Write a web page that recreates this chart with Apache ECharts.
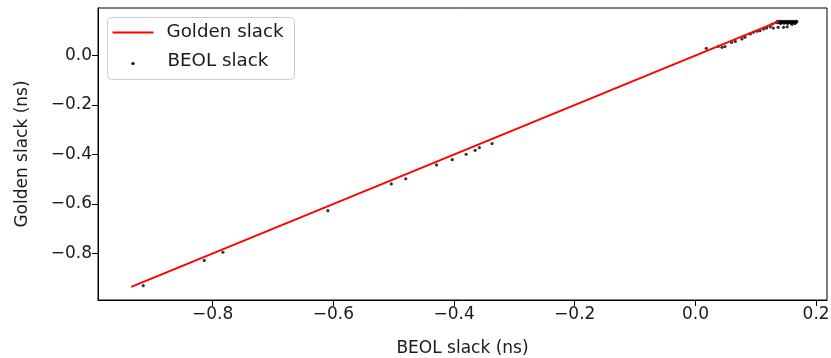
<!DOCTYPE html>
<html>
<head>
<meta charset="utf-8">
<script src="https://cdn.jsdelivr.net/npm/echarts@6/dist/echarts.min.js"></script>
<style>
html,body{margin:0;padding:0;background:#fff;}
#chart{width:831px;height:358px;}
</style>
</head>
<body>
<div id="chart"></div>
<script>
// Golden reference line (golden slack vs itself)
const goldenLine = [-0.935, 0.138];

// BEOL slack (x) vs Golden slack (y)
const beolSlack = [
  -0.915, -0.814, -0.783, -0.609, -0.504, -0.480, -0.429, -0.403, -0.380, -0.365, -0.358, -0.337,
  0.018, 0.038, 0.044, 0.049, 0.060, 0.066, 0.077, 0.082, 0.091, 0.096, 0.102, 0.107, 0.113, 0.118, 0.124,
  0.127, 0.134, 0.129, 0.137, 0.146, 0.152, 0.160,
  0.136, 0.139, 0.142, 0.145, 0.148, 0.151, 0.154, 0.157, 0.160, 0.163, 0.166, 0.168,
  0.137, 0.140, 0.143, 0.146, 0.149, 0.152, 0.155, 0.158, 0.161, 0.164, 0.167,
  0.141, 0.147, 0.153, 0.159, 0.165
];
const goldenSlack = [
  -0.930, -0.828, -0.795, -0.627, -0.519, -0.498, -0.442, -0.421, -0.399, -0.383, -0.372, -0.356,
  0.029, 0.037, 0.033, 0.036, 0.053, 0.057, 0.067, 0.074, 0.087, 0.094, 0.098, 0.100, 0.107, 0.111, 0.116,
  0.127, 0.134, 0.111, 0.114, 0.114, 0.116, 0.126,
  0.138, 0.138, 0.138, 0.138, 0.138, 0.138, 0.138, 0.138, 0.138, 0.138, 0.138, 0.138,
  0.133, 0.133, 0.134, 0.133, 0.134, 0.133, 0.134, 0.133, 0.134, 0.133, 0.134,
  0.129, 0.130, 0.129, 0.130, 0.129
];

const xTicks = [-0.8, -0.6, -0.4, -0.2, 0.0, 0.2];
const yTicks = [-0.8, -0.6, -0.4, -0.2, 0.0];

const FONT = 'DejaVu Sans';
const FS = 17;
const LFS = 18.3;
const TXT = '#1a1a1a';

function fmt(v) {
  const r = Math.round(v * 10) / 10;
  return (r < 0 ? '\u2212' : '') + Math.abs(r).toFixed(1);
}

const scatterData = beolSlack.map((x, i) => [x, goldenSlack[i]]);
const lineData = goldenLine.map(v => [v, v]);

const chart = echarts.init(document.getElementById('chart'), null, {renderer: 'canvas'});
chart.setOption({
  animation: false,
  backgroundColor: '#fff',
  grid: {left: 98, right: 4, top: 8, bottom: 58, show: true, borderColor: '#000', borderWidth: 1,
         containLabel: false, outerBoundsMode: 'none'},
  xAxis: {
    type: 'value', min: -0.99, max: 0.218,
    name: 'BEOL slack (ns)', nameLocation: 'middle', nameGap: 40,
    nameTextStyle: {fontFamily: FONT, fontSize: FS, color: TXT},
    axisLine: {show: true, onZero: false, lineStyle: {color: '#000', width: 1}},
    axisTick: {show: true, length: 6, customValues: xTicks, lineStyle: {color: '#000'}},
    axisLabel: {customValues: xTicks, formatter: fmt, fontFamily: FONT, fontSize: FS, color: TXT, margin: 6},
    splitLine: {show: false}
  },
  yAxis: {
    type: 'value', min: -0.988, max: 0.192,
    name: 'Golden slack (ns)', nameLocation: 'middle', nameGap: 67,
    nameTextStyle: {fontFamily: FONT, fontSize: FS, color: TXT},
    axisLine: {show: true, onZero: false, lineStyle: {color: '#000', width: 1}},
    axisTick: {show: true, length: 6, customValues: yTicks, lineStyle: {color: '#000'}},
    axisLabel: {customValues: yTicks, formatter: fmt, fontFamily: FONT, fontSize: FS, color: TXT, margin: 6},
    splitLine: {show: false}
  },
  series: [
    {
      name: 'BEOL slack', type: 'scatter', data: scatterData,
      symbol: 'circle', symbolSize: 3.2,
      itemStyle: {color: '#000'}, z: 2
    },
    {
      name: 'Golden slack', type: 'line', data: lineData,
      showSymbol: false, symbol: 'none',
      lineStyle: {color: '#ff0000', width: 2}, z: 3
    }
  ],
  graphic: [{
    type: 'group', left: 107, top: 17,
    children: [
      {type: 'rect', shape: {x: 0, y: 0, width: 187, height: 62, r: 4},
       style: {fill: 'rgba(255,255,255,0.8)', stroke: '#cccccc', lineWidth: 1}},
      {type: 'line', shape: {x1: 5, y1: 15, x2: 46, y2: 15}, style: {stroke: '#ff0000', lineWidth: 2}},
      {type: 'text', x: 59, y: 15, style: {text: 'Golden slack', font: LFS + 'px "' + FONT + '"', fill: TXT, verticalAlign: 'middle'}},
      {type: 'circle', shape: {cx: 25.5, cy: 46, r: 1.6}, style: {fill: '#000'}},
      {type: 'text', x: 60, y: 44, style: {text: 'BEOL slack', font: LFS + 'px "' + FONT + '"', fill: TXT, verticalAlign: 'middle'}}
    ]
  }]
});
</script>
</body>
</html>
